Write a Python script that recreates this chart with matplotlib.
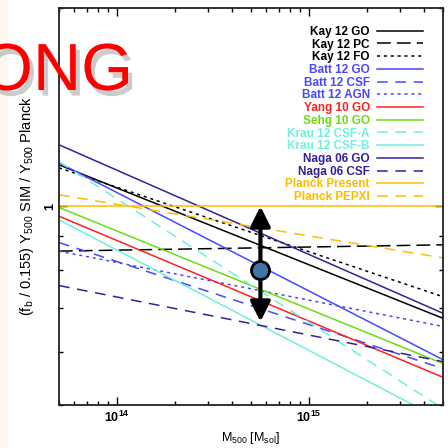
import matplotlib
matplotlib.use("Agg")
import matplotlib.pyplot as plt
import matplotlib.patheffects as pe
from matplotlib.patches import Rectangle
from matplotlib.ticker import NullFormatter
import numpy as np

plt.rcParams['font.family'] = ['Liberation Sans', 'DejaVu Sans']
plt.rcParams['font.weight'] = 'bold'
plt.rcParams['mathtext.fontset'] = 'custom'
plt.rcParams['mathtext.rm'] = 'Liberation Sans:bold'
plt.rcParams['mathtext.it'] = 'Liberation Sans:bold'
plt.rcParams['mathtext.bf'] = 'Liberation Sans:bold'
plt.rcParams['mathtext.default'] = 'regular'

##########
## DATA ##
##########

# scaling relations, sampled at both ends of the mass range
mass = [5e13, 5e15]

kay_go = [1.156, 0.676]
kay_pc = [0.855, 0.874]
kay_fo = [1.144, 0.729]
batt_go = [1.164, 0.585]
batt_csf = [0.881, 0.567]
batt_agn = [0.855, 0.657]
yang_go = [0.966, 0.550]
sehg_go = [0.996, 0.577]
krau_csf_a = [1.169, 0.493]
krau_csf_b = [0.954, 0.473]
naga_go = [1.240, 0.688]
naga_csf = [0.758, 0.581]
planck_present = [1.0, 1.0]
planck_pepxi = [1.041, 0.835]

# measured point with its range
point_mass = 5.6e14
point_val = 0.80
point_lo = 0.668
point_hi = 1.0

# name, values, colour, style
series = [
    ("Kay 12 GO", kay_go, "black", "-"),
    ("Kay 12 PC", kay_pc, "black", (0, (9, 4))),
    ("Kay 12 FO", kay_fo, "black", (0, (2, 2.5))),
    ("Batt 12 GO", batt_go, "#4848ff", "-"),
    ("Batt 12 CSF", batt_csf, "#4848ff", (0, (7, 5))),
    ("Batt 12 AGN", batt_agn, "#4848ff", (0, (2, 2.5))),
    ("Yang 10 GO", yang_go, "#ff2020", "-"),
    ("Sehg 10 GO", sehg_go, "#6add10", "-"),
    ("Krau 12 CSF-A", krau_csf_a, "#70f0dc", (0, (7, 5))),
    ("Krau 12 CSF-B", krau_csf_b, "#70f0dc", "-"),
    ("Naga 06 GO", naga_go, "#34209a", "-"),
    ("Naga 06 CSF", naga_csf, "#34209a", (0, (7, 5))),
    ("Planck Present", planck_present, "#ffbb00", "-"),
    ("Planck PEPXI", planck_pepxi, "#ffbb00", (0, (7, 5))),
]

##########
## PLOT ##
##########

fig = plt.figure(figsize=(4.48, 4.48), dpi=100)
# slide background strip on the left
fig.patches.append(Rectangle((0, 0), 7 / 448, 1, transform=fig.transFigure,
                             color="#fdf8ee", zorder=0))
ax = fig.add_axes([0.1317, 0.097, 0.857, 0.885])

handles = []
for name, vals, col, ls in series:
    h, = ax.plot(mass, vals, color=col, ls=ls, lw=1.1, label=name)
    handles.append(h)

ax.set_xscale("log")
ax.set_yscale("log")
ax.set_xlim(5e13, 5e15)
ax.set_ylim(0.5, 2.0)

ax.set_yticks([1])
ax.set_yticklabels(["1"])
ax.yaxis.set_minor_formatter(NullFormatter())
ax.xaxis.set_minor_formatter(NullFormatter())
ax.tick_params(which="both", direction="in", top=True, right=True, width=1.0)
ax.tick_params(which="major", length=6, labelsize=9)
ax.tick_params(which="minor", length=3)
ax.tick_params(axis="y", labelrotation=90, pad=2)
for t in ax.get_yticklabels():
    t.set_va("center")
for s in ax.spines.values():
    s.set_linewidth(1.3)
    s.set_color("#222222")

ax.set_xlabel(r"M$_{500}$ [M$_{sol}$]", fontsize=9, labelpad=4)
ax.set_ylabel(r"(f$_b$ / 0.155) Y$_{500}$ SIM / Y$_{500}$ Planck", fontsize=10.5, labelpad=6)

# measured value with arrow range
ax.annotate("", xy=(point_mass, point_hi), xytext=(point_mass, point_lo),
            arrowprops=dict(arrowstyle="<|-|>,head_length=1.2,head_width=0.6",
                            lw=3, color="black", shrinkA=0, shrinkB=0), zorder=5)
ax.plot(point_mass, point_val, "o", ms=13, mfc="#4274a8", mec="black", mew=2, zorder=6)

leg = ax.legend(handles=handles, loc="upper right", bbox_to_anchor=(0.948, 0.955),
                frameon=False, markerfirst=False, fontsize=8.5, handlelength=3.9,
                handletextpad=0.6, labelspacing=0.06, borderpad=0, borderaxespad=0)
for txt, (_, _, col, _) in zip(leg.get_texts(), series):
    txt.set_color(col)

# big red overlay word from the slide
fig.text(133 / 448, 1 - 90 / 448, "ONG", color="#ff0000", fontsize=48, fontweight="normal",
         ha="right", va="baseline", zorder=10,
         path_effects=[pe.withSimplePatchShadow(offset=(3, -4), shadow_rgbFace="gray", alpha=0.4)])

plt.savefig("out.png", dpi=100)
